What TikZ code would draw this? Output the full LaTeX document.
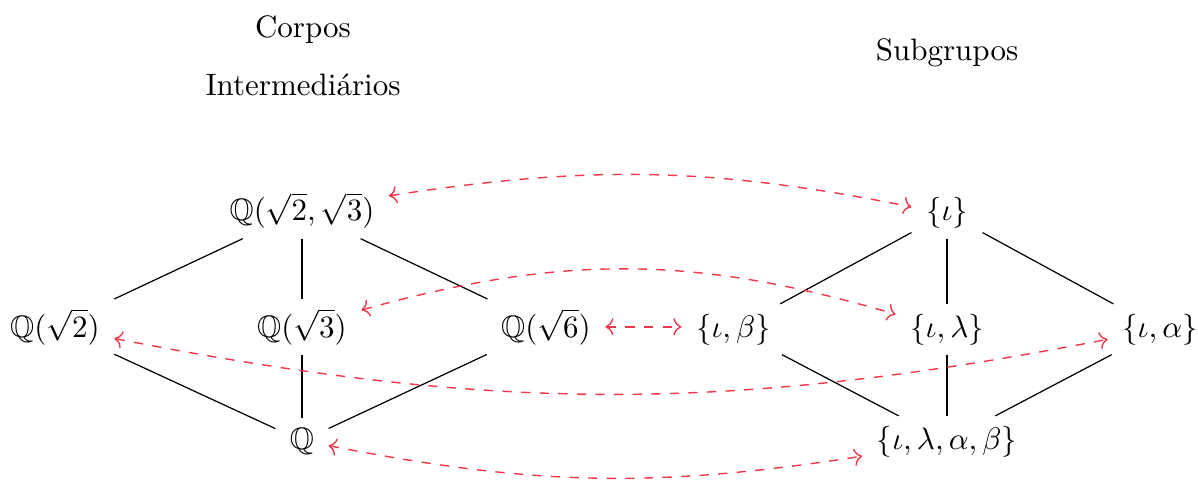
\documentclass[tikz,border=0pt]{standalone}
\usepackage{amssymb}
\usetikzlibrary{arrows.meta}
\definecolor{corrcol}{RGB}{242,55,75}
\begin{document}
\begin{tikzpicture}[x=0.3226pt,y=-0.3226pt,
  obj/.style={inner xsep=4.5pt,inner ysep=3pt,anchor=base},
  title/.style={anchor=base,inner sep=0pt},
  lat/.style={draw=black,line width=0.4pt},
  corr/.style={draw=corrcol,dashed,line width=0.45pt,
    {Computer Modern Rightarrow[length=2.6pt,width=5.6pt]}-{Computer Modern Rightarrow[length=2.6pt,width=5.6pt]}}]
\useasboundingbox (0,0) rectangle (1198,481);
% titles
\node[title] (corpos) at (303,38) {Corpos};
\node[title] (interm) at (303,96) {Intermediários};
\node[title] (subg) at (947,61) {Subgrupos};
% fields
\node[obj] (Q23) at (302,221) {$\mathbb{Q}(\sqrt{2},\sqrt{3})$};
\node[obj] (Q2) at (55,337) {$\mathbb{Q}(\sqrt{2})$};
\node[obj] (Q3) at (302,337) {$\mathbb{Q}(\sqrt{3})$};
\node[obj] (Q6) at (546,337) {$\mathbb{Q}(\sqrt{6})$};
\node[obj] (Q) at (302,449) {$\mathbb{Q}$};
% subgroups
\node[obj] (i) at (947,221) {$\{\iota\}$};
\node[obj] (ib) at (733.5,337) {$\{\iota,\beta\}$};
\node[obj] (il) at (947,337) {$\{\iota,\lambda\}$};
\node[obj] (ia) at (1160,337) {$\{\iota,\alpha\}$};
\node[obj] (all) at (947,449) {$\{\iota,\lambda,\alpha,\beta\}$};
% lattice lines
\draw[lat] (Q23) -- (Q2);
\draw[lat] (Q23) -- (Q3);
\draw[lat] (Q23) -- (Q6);
\draw[lat] (Q2) -- (Q);
\draw[lat] (Q3) -- (Q);
\draw[lat] (Q6) -- (Q);
\draw[lat] (i) -- (ib);
\draw[lat] (i) -- (il);
\draw[lat] (i) -- (ia);
\draw[lat] (ib) -- (all);
\draw[lat] (il) -- (all);
\draw[lat] (ia) -- (all);
% correspondence
\draw[corr] (Q23) to[bend left=10] (i);
\draw[corr] (Q3) to[bend left=16] (il);
\draw[corr] (Q6.east) -- (Q6.east -| ib.west);
\draw[corr] (Q2) to[bend right=11] (ia);
\draw[corr] (Q) to[bend right=10] (all);
\end{tikzpicture}
\end{document}
